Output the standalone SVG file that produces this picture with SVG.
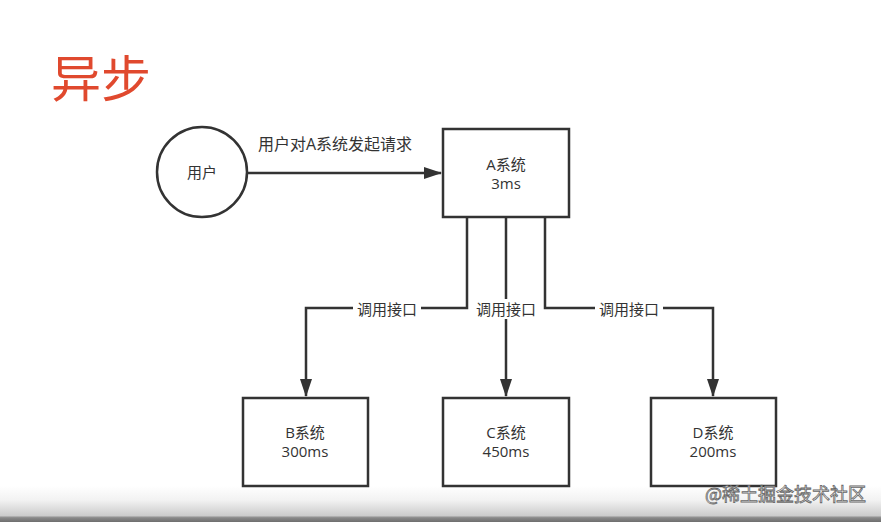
<svg xmlns="http://www.w3.org/2000/svg" width="881" height="522" viewBox="0 0 881 522">
<defs>
<linearGradient id="bottomShade" x1="0" y1="0" x2="0" y2="1">
<stop offset="0" stop-color="#ffffff"/>
<stop offset="0.4" stop-color="#f2f2f2"/>
<stop offset="0.82" stop-color="#cccccc"/>
<stop offset="0.88" stop-color="#8a8a8a"/>
<stop offset="1" stop-color="#6e6e6e"/>
</linearGradient>
<marker id="arrow" viewBox="0 0 18 12" refX="17" refY="6" markerWidth="18" markerHeight="12" markerUnits="userSpaceOnUse" orient="auto">
<path d="M0,0 L18,6 L0,12 Z" fill="#333"/>
</marker>
</defs>
<style>
.shape{fill:#fff;stroke:#333;stroke-width:2.5}
.conn{fill:none;stroke:#333;stroke-width:2.5}
.lbl{font-family:"Open Sans","Noto Sans CJK SC",sans-serif;fill:#333;text-anchor:middle}
.node{font-size:15px}
.edge{font-size:15px}
.lblbg{fill:#fff}
</style>
<rect x="0" y="0" width="881" height="522" fill="#fff"/>
<rect x="0" y="486" width="881" height="36" fill="url(#bottomShade)"/>
<text x="51" y="97" font-family="'Noto Sans CJK SC',sans-serif" font-size="50" fill="#e0492e">异步</text>
<g id="connectors">
<path class="conn" d="M247,173 L441,173" marker-end="url(#arrow)"/>
<path class="conn" d="M467,217 V308 H306 V396" marker-end="url(#arrow)"/>
<path class="conn" d="M506,217 V396" marker-end="url(#arrow)"/>
<path class="conn" d="M545,217 V308 H713 V396" marker-end="url(#arrow)"/>
<text class="lbl edge" x="335" y="150" style="font-size:16px">用户对A系统发起请求</text>
<rect class="lblbg" x="353" y="299" width="68" height="20"/>
<text class="lbl edge" x="387" y="315">调用接口</text>
<rect class="lblbg" x="472" y="299" width="68" height="20"/>
<text class="lbl edge" x="506" y="315">调用接口</text>
<rect class="lblbg" x="595" y="299" width="68" height="20"/>
<text class="lbl edge" x="629" y="315">调用接口</text>
</g>
<g id="user">
<circle class="shape" cx="202" cy="172" r="45"/>
<text class="lbl node" x="202" y="178">用户</text>
</g>
<g id="sysA">
<rect class="shape" x="443" y="129" width="126" height="88"/>
<text class="lbl node" x="506" y="170">A系统</text>
<text class="lbl node" x="506" y="189">3ms</text>
</g>
<g id="sysB">
<rect class="shape" x="243" y="398" width="125" height="88"/>
<text class="lbl node" x="305" y="438">B系统</text>
<text class="lbl node" x="305" y="457">300ms</text>
</g>
<g id="sysC">
<rect class="shape" x="443" y="398" width="126" height="88"/>
<text class="lbl node" x="506" y="438">C系统</text>
<text class="lbl node" x="506" y="457">450ms</text>
</g>
<g id="sysD">
<rect class="shape" x="651" y="398" width="125" height="88"/>
<text class="lbl node" x="713" y="438">D系统</text>
<text class="lbl node" x="713" y="457">200ms</text>
</g>
<text x="705" y="501" font-family="'Noto Sans CJK SC',sans-serif" font-size="18" fill="#fff" stroke="#666" stroke-width="0.8">@稀土掘金技术社区</text>
</svg>
